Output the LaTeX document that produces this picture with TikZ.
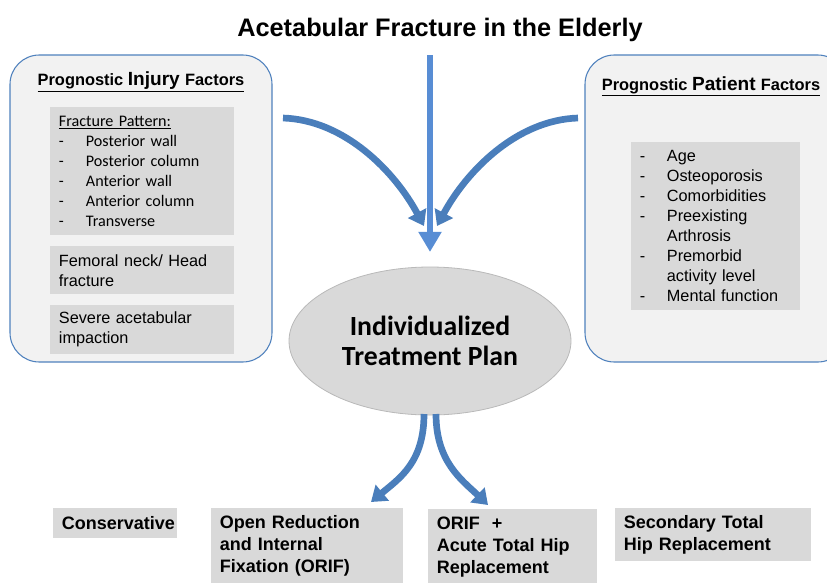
\documentclass[tikz,border=0pt]{standalone}
\usepackage{fontspec}
\setmainfont{Liberation Sans}
\newfontfamily\calfont{Carlito}
\usetikzlibrary{arrows.meta,shapes.geometric}

\definecolor{panelblue}{RGB}{79,129,189}
\definecolor{panelfill}{RGB}{242,242,242}
\definecolor{boxgray}{RGB}{217,217,217}
\definecolor{flowblue}{RGB}{74,126,187}
\definecolor{mainblue}{RGB}{88,141,212}

\tikzset{
  panel/.style={draw=panelblue, line width=0.8pt, fill=panelfill, rounded corners=22pt,
    minimum width=196.5pt, minimum height=230.25pt},
  graybox/.style={fill=boxgray, anchor=north west, inner xsep=6.5pt, inner ysep=0pt, align=left},
  listfont/.style={font=\fontsize{12.2pt}{15pt}\selectfont},
  outfont/.style={font=\bfseries\fontsize{13.5pt}{16.5pt}\selectfont},
  flow/.style={draw=flowblue, line width=5pt, -{Triangle[width=15pt,length=11pt]}},
}
\newcommand{\listdash}[1]{\makebox[20.25pt][l]{-}#1}
\newcommand{\listgap}[1]{\hspace*{20.25pt}#1}
\newcommand{\headsmall}{\fontsize{12.3pt}{14pt}\selectfont}
\newcommand{\headbig}{\fontsize{14.3pt}{16pt}\selectfont}

\begin{document}
\begin{tikzpicture}[x=0.75pt,y=-0.75pt]
  \useasboundingbox (0,0) rectangle (827,582);

  % title
  \node (title) [anchor=base, font=\bfseries\fontsize{19pt}{22pt}\selectfont] at (440,36)
    {Acetabular Fracture in the Elderly};

  % side panels
  \node (injury) [panel] at (141,208.5) {};
  \node (patient) [panel] at (716,208.5) {};
  \node (injuryhead) [anchor=base, font=\bfseries] at (141,85)
    {\underline{\headsmall Prognostic \headbig Injury \headsmall Factors}};
  \node (patienthead) [anchor=base, font=\bfseries] at (711,90)
    {\underline{\headsmall Prognostic \headbig Patient \headsmall Factors}};

  % injury factors
  \node (pattern) [graybox, text width=125pt, minimum height=96pt,
    font=\calfont\fontsize{12.1pt}{15pt}\selectfont] at (50,107)
    {\underline{Fracture Pattern:}\\
     \listdash{Posterior wall}\\
     \listdash{Posterior column}\\
     \listdash{Anterior wall}\\
     \listdash{Anterior column}\\
     \listdash{Transverse}};
  \node (femoral) [graybox, listfont, text width=125pt, minimum height=36pt] at (50,246)
    {Femoral neck/ Head\\fracture};
  \node (impaction) [graybox, listfont, text width=125pt, minimum height=36.75pt] at (50,305)
    {Severe acetabular\\impaction};

  % patient factors
  \node (patientlist) [graybox, listfont, text width=113.75pt, minimum height=126pt] at (631,142)
    {\listdash{Age}\\
     \listdash{Osteoporosis}\\
     \listdash{Comorbidities}\\
     \listdash{Preexisting}\\
     \listgap{Arthrosis}\\
     \listdash{Premorbid}\\
     \listgap{activity level}\\
     \listdash{Mental function}};

  % plan
  \node (plan) [ellipse, fill=boxgray, draw=gray!55, line width=0.6pt, inner sep=0pt,
    minimum width=211.5pt, minimum height=111pt, align=center,
    font=\calfont\bfseries\fontsize{20.8pt}{22.5pt}\selectfont] at (430,341)
    {Individualized\\Treatment Plan};

  % treatment options
  \node (conservative) [graybox, outfont, text width=80pt, minimum height=22.5pt] at (53,508)
    {Conservative};
  \node (orif) [graybox, outfont, text width=131pt, minimum height=57pt] at (211,508)
    {Open Reduction\\and Internal\\Fixation (ORIF)};
  \node (orifthr) [graybox, outfont, text width=113.75pt, minimum height=56.25pt] at (428,509)
    {ORIF\ \ +\\Acute Total Hip\\Replacement};
  \node (secthr) [graybox, outfont, text width=134pt, minimum height=39.75pt] at (615,508)
    {Secondary Total\\Hip Replacement};

  % arrows
  \coordinate (topsrc) at (430,55);
  \coordinate (leftsrc) at (283,118);
  \coordinate (lefttip) at (424,226);
  \coordinate (rightsrc) at (578,118);
  \coordinate (righttip) at (437,226);
  \coordinate (orifstart) at (424,414);
  \coordinate (oriftip) at (371,502);
  \coordinate (thrstart) at (436,414);
  \coordinate (thrtip) at (488,505);

  \draw[flow, draw=mainblue, -{Triangle[width=16.5pt,length=15pt]}, shorten >=11pt]
    (topsrc) -- (plan.north);
  \draw[flow] (leftsrc) .. controls (345,120) and (395,172) .. (lefttip);
  \draw[flow] (rightsrc) .. controls (516,120) and (466,172) .. (righttip);
  \draw[flow] (orifstart) .. controls (424,462) and (400,478) .. (oriftip);
  \draw[flow] (thrstart) .. controls (436,462) and (462,480) .. (thrtip);
\end{tikzpicture}
\end{document}
